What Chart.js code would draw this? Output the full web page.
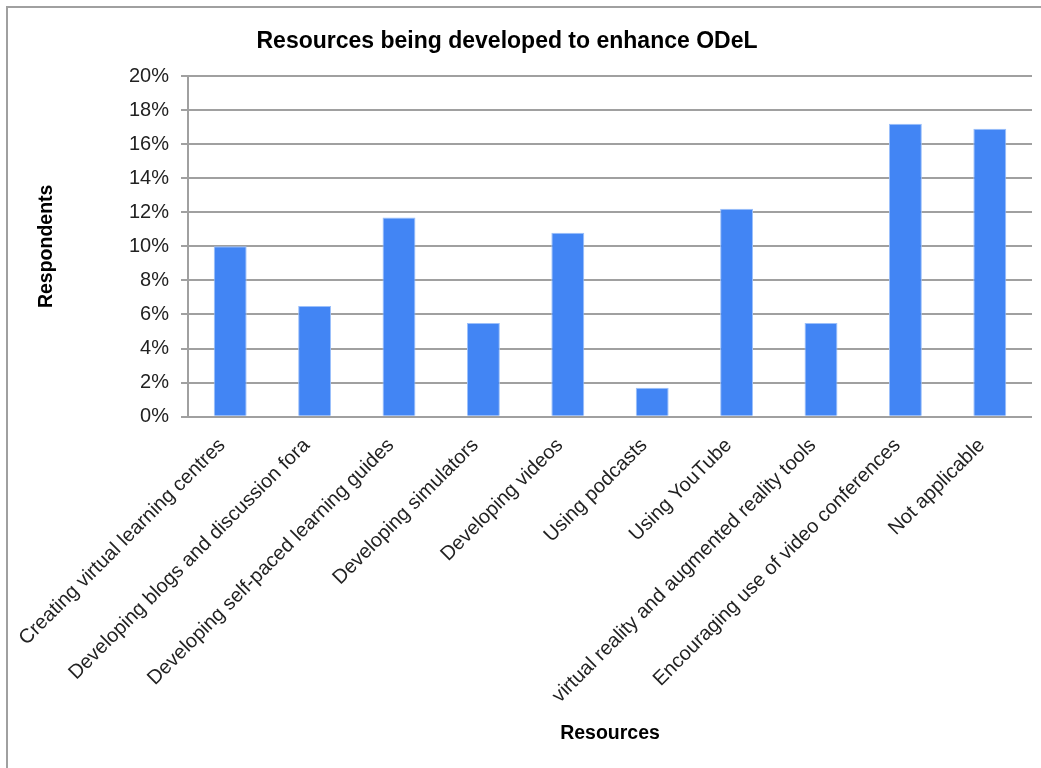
<!DOCTYPE html>
<html>
<head>
<meta charset="utf-8">
<script src="https://cdn.jsdelivr.net/npm/chart.js"></script>
<style>
  html, body { margin: 0; padding: 0; background: #fff; overflow: hidden; }
  #wrap { position: relative; width: 1041px; height: 768px; }
  #frame { position: absolute; left: 6px; top: 6px; width: 1100px; height: 800px;
           border-top: 2px solid #a0a0a0; border-left: 2px solid #a0a0a0; pointer-events: none; }
  canvas { position: absolute; left: 0; top: 0; }
</style>
</head>
<body>
<div id="wrap">
  <canvas id="chart" width="1041" height="768"></canvas>
  <div id="frame"></div>
</div>
<script>
// chart data
var categories = [
  'Creating virtual learning centres',
  'Developing blogs and discussion fora',
  'Developing self-paced learning guides',
  'Developing simulators',
  'Developing videos',
  'Using podcasts',
  'Using YouTube',
  'virtual reality and augmented reality tools',
  'Encouraging use of video conferences',
  'Not applicable'
];
var respondents = [10.0, 6.5, 11.7, 5.5, 10.8, 1.7, 12.2, 5.5, 17.2, 16.9];
var yTicks = [0, 2, 4, 6, 8, 10, 12, 14, 16, 18, 20];

var chartTitle = 'Resources being developed to enhance ODeL';
var FONT = '"Liberation Sans", Arial, sans-serif';

// title drawn by hand so it can sit where the original had it
var titlePlugin = {
  id: 'manualTitle',
  afterDraw: function(chart){
    var ctx = chart.ctx;
    ctx.save();
    ctx.fillStyle = '#000';
    ctx.font = 'bold 23px ' + FONT;
    ctx.textAlign = 'center';
    ctx.textBaseline = 'alphabetic';
    ctx.fillText(chartTitle, 507, 48);
    ctx.restore();
  }
};

new Chart(document.getElementById('chart').getContext('2d'), {
  type: 'bar',
  data: {
    labels: categories,
    datasets: [{
      label: 'Respondents',
      data: respondents,
      backgroundColor: '#4285f4',
      borderColor: '#9cc0fa',
      borderWidth: 1,
      barPercentage: 0.39,
      categoryPercentage: 1
    }]
  },
  options: {
    responsive: false,
    animation: false,
    layout: { padding: { left: 30, right: 9, top: 76, bottom: 0 } },
    plugins: {
      legend: { display: false },
      tooltip: { enabled: false },
      title: { display: false }
    },
    scales: {
      x: {
        grid: { display: false, drawTicks: false },
        border: { display: false },
        ticks: {
          autoSkip: false,
          maxRotation: 45,
          minRotation: 45,
          padding: 17,
          labelOffset: -8,
          color: '#222',
          font: { family: FONT, size: 20 }
        },
        title: {
          display: true,
          text: 'Resources',
          color: '#000',
          font: { family: FONT, size: 19.5, weight: 'bold' },
          padding: { top: 0, bottom: 23 }
        },
        afterFit: function(s){ s.height = 351.3; }
      },
      y: {
        min: 0,
        max: 20,
        afterBuildTicks: function(s){ s.ticks = yTicks.map(function(v){ return { value: v }; }); },
        grid: { color: '#a0a0a0', lineWidth: 2, tickLength: 7, drawTicks: true },
        border: { display: true, color: '#a0a0a0', width: 2 },
        ticks: {
          padding: 12,
          color: '#222',
          font: { family: FONT, size: 20 },
          callback: function(v){ return v + '%'; }
        },
        title: {
          display: true,
          text: 'Respondents',
          color: '#000',
          font: { family: FONT, size: 19.5, weight: 'bold' },
          padding: { top: 5, bottom: 0 }
        },
        afterFit: function(s){ s.width = 158; }
      }
    }
  },
  plugins: [titlePlugin]
});
</script>
</body>
</html>
